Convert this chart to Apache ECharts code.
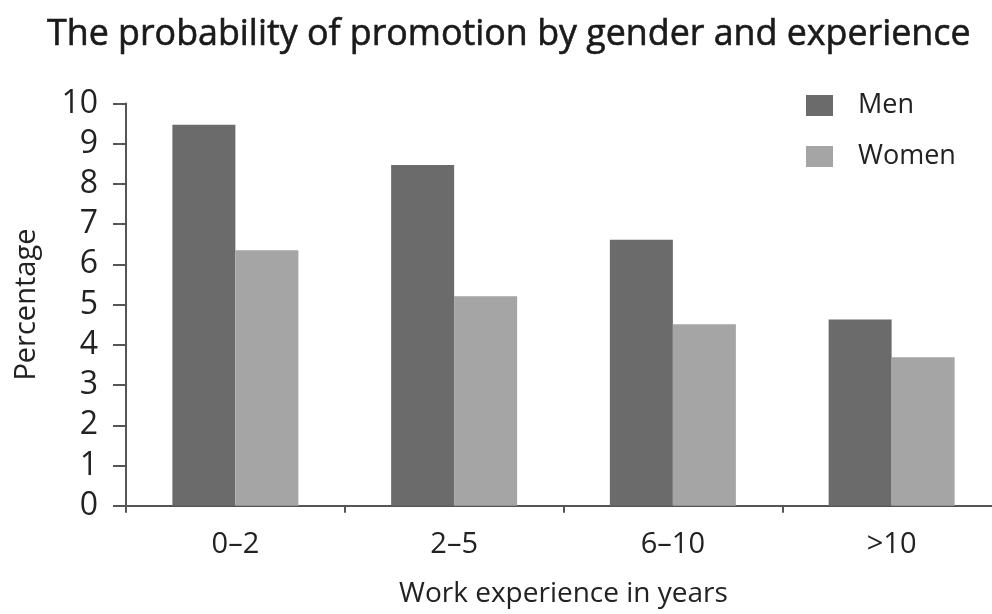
<!DOCTYPE html>
<html>
<head>
<meta charset="utf-8">
<script src="https://cdn.jsdelivr.net/npm/echarts@6/dist/echarts.min.js"></script>
<style>html,body{margin:0;padding:0;background:#fff}#c{width:992px;height:614px}</style>
</head>
<body>
<div id="c"></div>
<script>
const categories = ['0\u20132', '2\u20135', '6\u201310', '>10'];
const men = [9.47, 8.47, 6.61, 4.63];
const women = [6.35, 5.21, 4.51, 3.69];
const yTicks = [0, 1, 2, 3, 4, 5, 6, 7, 8, 9, 10];

const FONT = '"Open Sans"';
const chart = echarts.init(document.getElementById('c'), null, {renderer: 'canvas'});
chart.setOption({
  backgroundColor: '#ffffff',
  animation: false,
  title: {
    text: 'The probability of promotion by gender and experience',
    left: 42, top: 12,
    textStyle: {fontFamily: FONT, fontSize: 35.8, fontWeight: 'normal', color: '#1a1a1a',
                textBorderColor: '#1a1a1a', textBorderWidth: 0.6}
  },
  legend: {
    orient: 'vertical', left: 806, top: 92, padding: 0,
    itemWidth: 27, itemHeight: 21, itemGap: 24,
    icon: 'rect',
    textStyle: {fontFamily: FONT, fontSize: 27, color: '#222', padding: [0, 0, 0, 20]},
    data: ['Men', 'Women']
  },
  grid: {left: 126, width: 875, top: 103.5, bottom: 108.3, containLabel: false, outerBoundsMode: 'none'},
  xAxis: {
    type: 'category', data: categories,
    name: 'Work experience in years', nameLocation: 'middle', nameGap: 74,
    nameTextStyle: {fontFamily: FONT, fontSize: 28, color: '#222'},
    axisLine: {lineStyle: {color: '#555', width: 2}},
    axisTick: {show: true, length: 7, lineStyle: {color: '#555', width: 2}},
    axisLabel: {fontFamily: FONT, fontSize: 29, color: '#222', margin: 25}
  },
  yAxis: {
    type: 'value', min: yTicks[0], max: yTicks[yTicks.length - 1], interval: 1,
    name: 'Percentage', nameLocation: 'middle', nameGap: 85,
    nameTextStyle: {fontFamily: FONT, fontSize: 29, color: '#222'},
    axisLine: {show: true, lineStyle: {color: '#555', width: 2}},
    axisTick: {show: true, length: 13, lineStyle: {color: '#555', width: 2}},
    axisLabel: {fontFamily: FONT, fontSize: 32, color: '#222', margin: 28},
    splitLine: {show: false}
  },
  series: [
    {name: 'Men', type: 'bar', data: men, barWidth: 63, barGap: '0%', itemStyle: {color: '#6b6b6b'}},
    {name: 'Women', type: 'bar', data: women, barWidth: 63, barGap: '0%', itemStyle: {color: '#a5a5a5'}}
  ]
});
</script>
</body>
</html>
